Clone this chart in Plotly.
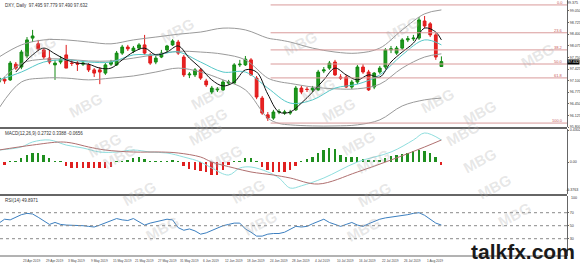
import plotly.graph_objects as go

# ---------------- data ----------------
date_labels = ["17 Apr 2019", "23 Apr 2019", "29 Apr 2019", "3 May 2019", "9 May 2019",
               "15 May 2019", "21 May 2019", "27 May 2019", "31 May 2019", "6 Jun 2019",
               "12 Jun 2019", "18 Jun 2019", "24 Jun 2019", "28 Jun 2019", "4 Jul 2019",
               "10 Jul 2019", "16 Jul 2019", "22 Jul 2019", "26 Jul 2019", "1 Aug 2019"]
date_label_bars = [0, 4, 8, 12, 16, 20, 24, 28, 32, 36, 40, 44, 48, 52, 56, 60, 64, 68, 72, 76]

opens = [97.06, 97.14, 97.12, 97.56, 97.48, 97.79, 98.29, 98.13, 97.96, 97.73,
         97.54, 97.62, 97.82, 97.59, 97.59, 97.56, 97.54, 97.40, 97.40, 97.31,
         97.56, 97.54, 97.87, 98.04, 97.93, 98.01, 98.10, 97.82, 97.62, 97.76,
         97.96, 98.10, 98.18, 97.76, 97.26, 97.26, 97.40, 97.09, 96.78, 96.84,
         96.84, 97.03, 97.03, 97.54, 97.54, 97.68, 97.17, 96.61, 96.14, 96.05,
         96.22, 96.19, 96.19, 96.28, 96.89, 96.86, 96.84, 96.84, 97.37, 97.45,
         97.62, 97.20, 97.20, 96.92, 97.06, 97.48, 97.34, 96.92, 97.34, 97.48,
         97.96, 97.87, 98.01, 98.24, 98.27, 98.29, 98.77, 98.69, 98.38, 97.495]
highs = [97.26, 97.20, 97.65, 97.62, 97.96, 98.32, 98.52, 98.24, 98.01, 97.96,
         97.68, 97.79, 98.10, 97.68, 97.65, 97.65, 97.59, 97.45, 97.48, 97.59,
         97.68, 97.93, 98.10, 98.10, 98.07, 98.15, 98.38, 97.87, 97.79, 97.96,
         98.10, 98.26, 98.24, 97.82, 97.34, 97.45, 97.45, 97.15, 96.95, 96.92,
         97.12, 97.12, 97.59, 97.68, 97.79, 97.73, 97.23, 96.67, 96.22, 96.28,
         96.30, 96.28, 96.28, 96.95, 96.95, 96.92, 96.95, 97.40, 97.48, 97.65,
         97.68, 97.28, 97.26, 97.12, 97.54, 97.56, 97.40, 97.34, 97.51, 98.01,
         98.07, 98.07, 98.29, 98.35, 98.38, 98.88, 98.91, 98.74, 98.43, 97.779]
lows = [96.98, 97.01, 97.09, 97.40, 97.42, 97.73, 98.18, 97.93, 97.70, 97.56,
        97.12, 97.56, 97.45, 97.51, 97.37, 97.51, 97.34, 97.20, 97.00, 97.26,
        97.51, 97.51, 97.82, 97.93, 97.87, 97.96, 97.82, 97.54, 97.56, 97.73,
        97.90, 98.07, 97.82, 97.20, 97.17, 97.20, 97.12, 96.92, 96.72, 96.78,
        96.81, 96.98, 97.00, 97.48, 97.51, 97.23, 96.58, 96.14, 95.97, 96.00,
        96.16, 96.14, 96.14, 96.25, 96.72, 96.78, 96.78, 96.81, 97.31, 97.40,
        97.23, 97.12, 96.89, 96.86, 97.00, 97.29, 96.81, 96.86, 97.29, 97.42,
        97.87, 97.82, 97.96, 98.18, 98.21, 98.24, 98.57, 98.32, 97.68, 97.490]
closes = [97.17, 97.09, 97.59, 97.45, 97.90, 98.24, 98.35, 97.99, 97.76, 97.62,
          97.59, 97.70, 97.45, 97.58, 97.56, 97.59, 97.40, 97.31, 97.34, 97.54,
          97.62, 97.87, 98.04, 97.99, 98.01, 98.10, 97.87, 97.59, 97.73, 97.87,
          98.07, 98.21, 97.87, 97.26, 97.28, 97.40, 97.17, 96.98, 96.89, 96.86,
          97.06, 97.06, 97.54, 97.56, 97.70, 97.26, 96.64, 96.19, 96.05, 96.22,
          96.23, 96.22, 96.21, 96.89, 96.78, 96.85, 96.89, 97.34, 97.40, 97.59,
          97.26, 97.17, 96.92, 97.06, 97.48, 97.34, 96.84, 97.31, 97.45, 97.96,
          97.99, 98.01, 98.24, 98.27, 98.29, 98.80, 98.63, 98.38, 97.76, 97.632]

bb_bars = [0, 4, 8, 12, 16, 20, 24, 28, 32, 36, 40, 44, 48, 50, 52, 56, 60, 64, 68, 72, 76, 79]
bb_upper = [97.76, 98.10, 98.24, 98.24, 98.18, 98.13, 98.24, 98.32, 98.40, 98.46, 98.57,
            98.52, 98.29, 98.24, 98.18, 98.01, 97.90, 97.87, 98.01, 98.52, 98.97, 99.08]
bb_middle = [97.05, 97.58, 97.70, 97.70, 97.65, 97.65, 97.73, 97.83, 97.92, 97.90, 97.84,
             97.68, 97.17, 97.07, 97.02, 96.92, 96.87, 96.87, 97.00, 97.45, 97.76, 97.85]
bb_lower = [96.33, 97.06, 97.17, 97.17, 97.12, 97.17, 97.23, 97.34, 97.45, 97.34, 97.12,
            96.84, 96.05, 95.90, 95.86, 95.83, 95.83, 95.86, 96.00, 96.39, 96.56, 96.61]

ma_slow_bars = [0, 4, 8, 12, 16, 20, 24, 28, 32, 36, 40, 44, 48, 52, 56, 60, 64, 68, 72, 76, 79]
ma_slow = [97.12, 97.34, 97.62, 97.68, 97.62, 97.62, 97.82, 97.82, 97.90, 97.62, 97.34,
           97.34, 96.89, 96.47, 96.56, 96.89, 97.00, 97.26, 97.82, 98.24, 98.10]

ma_fast_bars = [3, 6, 8, 10, 12, 14, 16, 18, 20, 22, 24, 26, 28, 30, 32, 34, 36, 38, 40, 42,
                44, 46, 48, 50, 52, 54, 56, 58, 60, 62, 64, 66, 68, 70, 72, 74, 76, 78, 79]
ma_fast = [97.34, 97.82, 98.01, 97.85, 97.68, 97.59, 97.56, 97.45, 97.45, 97.68, 97.90,
           98.01, 97.82, 97.90, 98.07, 97.73, 97.45, 97.12, 96.95, 97.06, 97.40, 97.34,
           96.72, 96.22, 96.22, 96.47, 96.78, 97.12, 97.45, 97.26, 97.12, 97.26, 97.20,
           97.62, 97.90, 98.15, 98.57, 98.46, 98.24]

fib_levels = ["0.0", "23.6", "38.2", "50.0", "61.8", "100.0"]
fib_prices = [99.22, 98.44, 97.96, 97.565, 97.175, 95.91]
fib_start_bar = 48.5

macd_bars = [0, 4, 6, 9, 12, 15, 18, 21, 24, 27, 30, 33, 36, 38, 41, 43, 45, 48, 50, 52,
             54, 58, 64, 70, 74, 76, 79]
macd_main = [0.161, 0.202, 0.269, 0.296, 0.228, 0.188, 0.134, 0.134, 0.161, 0.134, 0.121,
             0.067, 0.0, -0.081, -0.175, -0.081, -0.067, -0.134, -0.215, -0.35, -0.32,
             -0.215, 0.0, 0.134, 0.296, 0.39, 0.296]
signal_bars = [0, 6, 11, 13, 16, 19, 24, 29, 32, 36, 38, 42, 45, 49, 52, 57, 64, 70, 76, 79]
macd_signal = [0.161, 0.228, 0.269, 0.255, 0.202, 0.161, 0.134, 0.134, 0.121, 0.067, 0.0,
               -0.081, -0.134, -0.175, -0.215, -0.296, -0.134, 0.027, 0.202, 0.296]
macd_hist = [0, -0.034, 0.013, 0.013, 0.054, 0.094, 0.121, 0.121, 0.094, 0.054,
             0.013, 0.013, -0.054, -0.081, -0.081, -0.081, -0.081, -0.081, -0.081, -0.081,
             -0.067, 0.013, 0.013, 0.027, 0.054, 0.067, 0.040, 0.013, 0.013, 0.013,
             0.013, 0.016, 0.013, -0.054, -0.094, -0.108, -0.121, -0.134, -0.175, -0.175,
             -0.108, -0.040, 0.013, 0.013, 0.054, 0.054, 0.013, -0.067, -0.108, -0.134,
             -0.134, -0.134, -0.108, -0.054, 0.013, 0.040, 0.067, 0.121, 0.161, 0.188,
             0.175, 0.094, 0.067, 0.067, 0.067, 0.040, 0.016, 0.016, 0.027, 0.054,
             0.081, 0.094, 0.108, 0.121, 0.148, 0.161, 0.148, 0.121, 0.067, -0.040]
macd_ticks = [0.43, 0.0]
macd_tick_text = ["0.4302", "0.00"]
macd_min_value = -0.376
macd_min_text = "-0.3763"

rsi = [54, 60, 59, 63, 67, 69, 68, 63, 57, 52, 55, 52, 51, 51, 51, 50, 49, 48, 51, 54,
       58, 61, 59, 58, 61, 56, 51, 54, 56, 59, 60, 59, 47, 43, 45, 42, 37, 39, 43, 46,
       50, 52, 54, 54, 45, 40, 34, 34, 37, 38, 38, 40, 45, 49, 48, 49, 53, 57, 60, 55,
       52, 49, 52, 55, 51, 49, 53, 57, 60, 62, 63, 65, 66, 67, 69, 70, 66, 60, 54, 51]
rsi_levels = [30, 50, 70]

price_ticks = [95.8, 96.125, 96.45, 96.775, 97.1, 97.425, 97.75, 98.075, 98.4, 98.725, 99.05]
price_top_label = "99.375"

# ---------------- figure geometry ----------------
W, H = 580, 263
MR, MB = 13, 7
PW, PH = W - MR, H - MB


def pyp(px):
    return 1 - px / PH


def pxp(px):
    return px / PW


bars = list(range(len(closes)))
XR = [1 / 5.6, (PW + 1) / 5.6]

fig = go.Figure()

fig.add_trace(go.Candlestick(
    x=bars, open=opens, high=highs, low=lows, close=closes,
    increasing=dict(line=dict(color="#138a13", width=1), fillcolor="#1f9a1f"),
    decreasing=dict(line=dict(color="#e01b1b", width=1), fillcolor="#e82222"),
    whiskerwidth=0, xaxis="x", yaxis="y", showlegend=False))

for yy in (bb_upper, bb_middle, bb_lower):
    fig.add_trace(go.Scatter(x=bb_bars, y=yy, mode="lines", line=dict(color="#9a9a9a", width=1, shape="spline"),
                             xaxis="x", yaxis="y", showlegend=False))
fig.add_trace(go.Scatter(x=ma_slow_bars, y=ma_slow, mode="lines",
                         line=dict(color="#56c8c8", width=1, shape="spline"), xaxis="x", yaxis="y", showlegend=False))
fig.add_trace(go.Scatter(x=ma_fast_bars, y=ma_fast, mode="lines",
                         line=dict(color="#111111", width=1, shape="spline"), xaxis="x", yaxis="y", showlegend=False))

# MACD
fig.add_trace(go.Bar(x=bars, y=macd_hist, width=0.32,
                     marker=dict(color=["#1f8f1f" if v > 0 else "#e02020" for v in macd_hist], line=dict(width=0)),
                     xaxis="x", yaxis="y2", showlegend=False))
fig.add_trace(go.Scatter(x=macd_bars, y=macd_main, mode="lines", line=dict(color="#8fdede", width=1, shape="spline"),
                         xaxis="x", yaxis="y2", showlegend=False))
fig.add_trace(go.Scatter(x=signal_bars, y=macd_signal, mode="lines", line=dict(color="#b07070", width=1, shape="spline"),
                         xaxis="x", yaxis="y2", showlegend=False))

# RSI
fig.add_trace(go.Scatter(x=bars, y=rsi, mode="lines", line=dict(color="#3c7fc0", width=1),
                         xaxis="x", yaxis="y3", showlegend=False))

shapes = []
for p in fib_prices:
    shapes.append(dict(type="line", xref="x", yref="y", x0=fib_start_bar, x1=XR[1], y0=p, y1=p,
                       line=dict(color="#d99a9a", width=1)))
for lv in rsi_levels:
    shapes.append(dict(type="line", xref="paper", yref="y3", x0=0, x1=1, y0=lv, y1=lv,
                       line=dict(color="#888888", width=1, dash="dot")))
for sep in [128, 195]:
    shapes.append(dict(type="line", xref="paper", yref="paper", x0=0, x1=1, y0=pyp(sep), y1=pyp(sep),
                       line=dict(color="#666666", width=2)))
shapes.append(dict(type="line", xref="paper", yref="paper", x0=0, x1=1, y0=0, y1=0,
                   line=dict(color="#666666", width=1)))
shapes.append(dict(type="line", xref="paper", yref="y2", x0=1, x1=pxp(568.5), y0=macd_min_value,
                   y1=macd_min_value, line=dict(color="#666666", width=1)))

ann = []
small = dict(family="Liberation Sans, Arial", size=4.5, color="#333333")
ann.append(dict(xref="paper", yref="paper", x=pxp(3), y=pyp(0.5), xanchor="left", yanchor="top",
                text="DXY, Daily  97.495 97.779 97.490 97.632", showarrow=False, font=small))
ann.append(dict(xref="paper", yref="paper", x=pxp(3), y=pyp(129), xanchor="left", yanchor="top",
                text="MACD(12,26,9) 0.2732 0.3388 -0.0656", showarrow=False, font=small))
ann.append(dict(xref="paper", yref="paper", x=pxp(3), y=pyp(195.5), xanchor="left", yanchor="top",
                text="RSI(14) 49.8971", showarrow=False, font=small))
for lbl, p in zip(fib_levels, fib_prices):
    ann.append(dict(xref="paper", yref="y", x=pxp(565), y=p, xanchor="right", yanchor="middle", yshift=2.5,
                    text=lbl, showarrow=False, font=dict(family="Liberation Sans", size=4, color="#c85a5a")))
ann.append(dict(xref="paper", yref="y", x=1.0, y=closes[-1], xanchor="left", yanchor="middle",
                text="%.3f" % closes[-1], showarrow=False, bgcolor="#000000", borderpad=0,
                font=dict(family="Liberation Sans", size=3.6, color="#ffffff")))
for b, lbl in zip(date_label_bars, date_labels):
    ann.append(dict(xref="x", yref="paper", x=b, y=pyp(257), xanchor="left", yanchor="top",
                    text=lbl, showarrow=False, font=dict(family="Liberation Sans", size=3.2, color="#444444")))
ann.append(dict(xref="paper", yref="paper", x=1.0, y=pyp(197.5), xanchor="left", yanchor="middle", xshift=1.5,
                text="100", showarrow=False, font=dict(family="Liberation Sans", size=3.6, color="#333333")))
ann.append(dict(xref="paper", yref="paper", x=pxp(579.5), y=pyp(3), xanchor="right", yanchor="middle",
                text=price_top_label, showarrow=False, font=dict(family="Liberation Sans", size=3.6, color="#333333")))
ann.append(dict(xref="paper", yref="y2", x=pxp(579.5), y=macd_min_value, xanchor="right", yanchor="middle",
                text=macd_min_text, showarrow=False, font=dict(family="Liberation Sans", size=3.6, color="#333333")))

# watermarks
wm = [(17, 30), (155, 12), (63, 105), (185, 97), (300, 25), (318, 72), (338, 110), (210, 120),
      (425, 10), (560, 37), (460, 82), (502, 112), (82, 145), (97, 175), (205, 133), (225, 157),
      (358, 143), (373, 180), (485, 133), (502, 160), (117, 212), (140, 247), (248, 210),
      (260, 242), (397, 213), (363, 248), (517, 205), (537, 233)]
for (wx, wy) in wm:
    ann.append(dict(xref="paper", yref="paper", x=pxp(wx), y=pyp(wy), text="<b>MBG</b>", showarrow=False,
                    textangle=-28, font=dict(family="Liberation Sans", size=15, color="rgba(170,170,170,0.28)")))

ann.append(dict(xref="paper", yref="paper", x=pxp(577), y=pyp(251), xanchor="right", yanchor="middle",
                text="<b>talkfx.com</b>", showarrow=False,
                font=dict(family="Liberation Sans", size=21, color="#1a1a1a")))

axis_font = dict(family="Liberation Sans", size=3.6, color="#333333")
common_y = dict(side="right", showgrid=False, zeroline=False, tickfont=axis_font, ticks="outside", ticklen=1,
                tickcolor="#666", showline=True, linecolor="#666666", linewidth=1, anchor="x", automargin=False)
fig.update_layout(
    width=W, height=H, margin=dict(l=0, r=MR, t=0, b=MB, autoexpand=False),
    paper_bgcolor="white", plot_bgcolor="white",
    xaxis=dict(domain=[0, 1], range=XR, anchor="y3", showticklabels=False, showgrid=False, zeroline=False,
               rangeslider=dict(visible=False), showline=False, ticks="", automargin=False),
    yaxis=dict(domain=[pyp(127), 1], range=[95.8, 99.358], tickvals=price_ticks,
               ticktext=["%.3f" % t for t in price_ticks], **common_y),
    yaxis2=dict(domain=[pyp(194), pyp(129)], range=[-0.430, 0.4435], tickvals=macd_ticks,
                ticktext=macd_tick_text, **common_y),
    yaxis3=dict(domain=[0, pyp(196)], range=[3.4, 95.7], tickvals=[30, 50, 70], **common_y),
    shapes=shapes, annotations=ann, bargap=0, boxgap=0.3,
)

fig.write_html("out.html")
